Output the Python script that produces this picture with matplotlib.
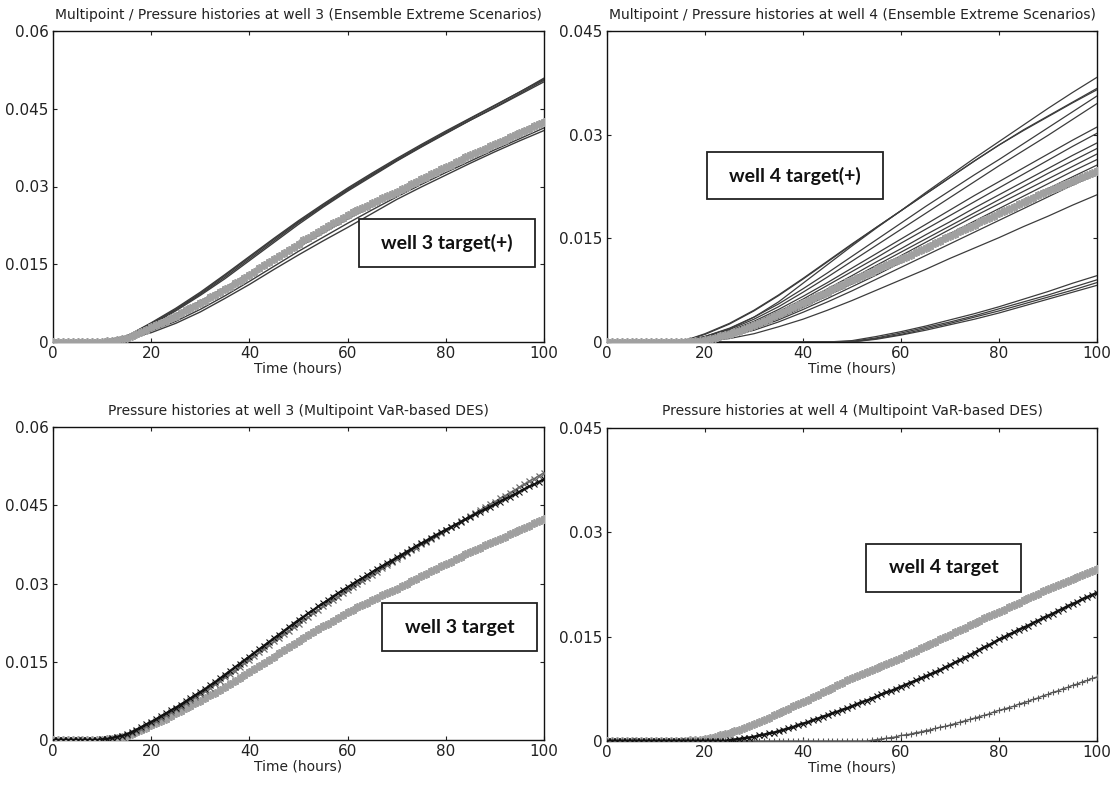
import matplotlib
matplotlib.use("Agg")
import matplotlib.pyplot as plt
from matplotlib.patches import Rectangle

# ---------------- data ----------------
hours = list(range(101))
t5 = list(range(0, 101, 5))

# well 3 target (gray asterisks), hourly
target_w3 = [0, 0, 0, 0, 0, 0, 0, 0, 0, 0,
             0.0000, 0.0001, 0.0002, 0.0004, 0.0006, 0.0008, 0.0011, 0.0015, 0.0019, 0.0023, 0.0028,
             0.0032, 0.0037, 0.0041, 0.0046, 0.0051, 0.0056, 0.0061, 0.0065, 0.0070, 0.0075,
             0.0080, 0.0086, 0.0091, 0.0096, 0.0102, 0.0107, 0.0113, 0.0118, 0.0124, 0.0130,
             0.0136, 0.0142, 0.0148, 0.0154, 0.0160, 0.0166, 0.0172, 0.0178, 0.0184, 0.0190,
             0.0196, 0.0201, 0.0207, 0.0212, 0.0218, 0.0223, 0.0229, 0.0234, 0.0240, 0.0245,
             0.0250, 0.0254, 0.0259, 0.0263, 0.0268, 0.0272, 0.0277, 0.0281, 0.0286, 0.0290,
             0.0295, 0.0300, 0.0304, 0.0309, 0.0314, 0.0319, 0.0324, 0.0328, 0.0333, 0.0338,
             0.0342, 0.0347, 0.0351, 0.0356, 0.0360, 0.0364, 0.0369, 0.0373, 0.0378, 0.0382,
             0.0386, 0.0390, 0.0395, 0.0399, 0.0403, 0.0407, 0.0411, 0.0416, 0.0420, 0.0424]

# well 3 VaR-based DES scenarios, hourly
des_w3_a = [0, 0, 0, 0, 0, 0, 0, 0, 0, 0,
            0.0001, 0.0002, 0.0004, 0.0006, 0.0008, 0.0011, 0.0015, 0.0020, 0.0025, 0.0030, 0.0035,
            0.0040, 0.0046, 0.0051, 0.0057, 0.0062, 0.0068, 0.0074, 0.0080, 0.0086, 0.0092,
            0.0098, 0.0105, 0.0111, 0.0118, 0.0125, 0.0132, 0.0139, 0.0146, 0.0153, 0.0160,
            0.0167, 0.0174, 0.0181, 0.0188, 0.0195, 0.0202, 0.0209, 0.0216, 0.0223, 0.0230,
            0.0236, 0.0243, 0.0249, 0.0256, 0.0262, 0.0268, 0.0275, 0.0281, 0.0287, 0.0293,
            0.0299, 0.0305, 0.0310, 0.0316, 0.0322, 0.0328, 0.0333, 0.0339, 0.0344, 0.0350,
            0.0355, 0.0361, 0.0366, 0.0372, 0.0377, 0.0382, 0.0388, 0.0393, 0.0398, 0.0403,
            0.0408, 0.0413, 0.0418, 0.0423, 0.0428, 0.0433, 0.0438, 0.0442, 0.0447, 0.0452,
            0.0457, 0.0462, 0.0466, 0.0471, 0.0476, 0.0481, 0.0486, 0.0490, 0.0495, 0.0500]
des_w3_b = [0, 0, 0, 0, 0, 0, 0, 0, 0, 0,
            0.0001, 0.0002, 0.0003, 0.0005, 0.0007, 0.0010, 0.0013, 0.0017, 0.0022, 0.0027, 0.0032,
            0.0037, 0.0042, 0.0048, 0.0053, 0.0059, 0.0064, 0.0070, 0.0076, 0.0082, 0.0088,
            0.0094, 0.0100, 0.0107, 0.0113, 0.0120, 0.0126, 0.0133, 0.0140, 0.0147, 0.0154,
            0.0161, 0.0168, 0.0175, 0.0182, 0.0189, 0.0196, 0.0203, 0.0209, 0.0216, 0.0223,
            0.0230, 0.0236, 0.0243, 0.0249, 0.0256, 0.0262, 0.0268, 0.0275, 0.0281, 0.0287,
            0.0293, 0.0299, 0.0305, 0.0311, 0.0317, 0.0323, 0.0329, 0.0335, 0.0341, 0.0347,
            0.0352, 0.0358, 0.0364, 0.0369, 0.0375, 0.0380, 0.0386, 0.0391, 0.0397, 0.0402,
            0.0408, 0.0413, 0.0419, 0.0424, 0.0430, 0.0435, 0.0441, 0.0446, 0.0452, 0.0457,
            0.0463, 0.0468, 0.0474, 0.0479, 0.0485, 0.0490, 0.0496, 0.0501, 0.0507, 0.0512]

# well 4 target (gray asterisks), hourly
target_w4 = [0, 0, 0, 0, 0, 0, 0, 0, 0, 0, 0, 0, 0, 0, 0, 0,
             0.0000, 0.0001, 0.0001, 0.0002, 0.0003,
             0.0004, 0.0006, 0.0008, 0.0010, 0.0012, 0.0014, 0.0016, 0.0019, 0.0021, 0.0024,
             0.0027, 0.0030, 0.0033, 0.0037, 0.0040, 0.0043, 0.0046, 0.0050, 0.0053, 0.0056,
             0.0059, 0.0063, 0.0066, 0.0070, 0.0073, 0.0076, 0.0080, 0.0083, 0.0087, 0.0090,
             0.0093, 0.0096, 0.0099, 0.0102, 0.0105, 0.0108, 0.0111, 0.0114, 0.0117, 0.0120,
             0.0123, 0.0126, 0.0130, 0.0133, 0.0136, 0.0139, 0.0143, 0.0146, 0.0150, 0.0153,
             0.0156, 0.0160, 0.0163, 0.0167, 0.0170, 0.0173, 0.0177, 0.0180, 0.0183, 0.0186,
             0.0189, 0.0193, 0.0196, 0.0199, 0.0202, 0.0205, 0.0209, 0.0212, 0.0215, 0.0218,
             0.0221, 0.0224, 0.0227, 0.0230, 0.0233, 0.0236, 0.0239, 0.0242, 0.0245, 0.0248]

# well 4 VaR-based DES scenarios, hourly
des_w4_a = [0, 0, 0, 0, 0, 0, 0, 0, 0, 0, 0, 0, 0, 0, 0, 0, 0, 0, 0, 0, 0, 0, 0, 0,
            0.0000, 0.0001, 0.0002, 0.0003, 0.0004, 0.0005, 0.0006,
            0.0008, 0.0009, 0.0011, 0.0012, 0.0014, 0.0016, 0.0018, 0.0020, 0.0023, 0.0025,
            0.0027, 0.0030, 0.0032, 0.0035, 0.0037, 0.0040, 0.0042, 0.0045, 0.0047, 0.0050,
            0.0053, 0.0056, 0.0058, 0.0061, 0.0064, 0.0067, 0.0070, 0.0072, 0.0075, 0.0078,
            0.0081, 0.0084, 0.0087, 0.0090, 0.0093, 0.0096, 0.0099, 0.0102, 0.0106, 0.0109,
            0.0113, 0.0116, 0.0120, 0.0123, 0.0127, 0.0131, 0.0135, 0.0138, 0.0142, 0.0146,
            0.0149, 0.0153, 0.0156, 0.0160, 0.0163, 0.0166, 0.0170, 0.0173, 0.0177, 0.0180,
            0.0183, 0.0187, 0.0190, 0.0194, 0.0197, 0.0200, 0.0204, 0.0207, 0.0210, 0.0213]
des_w4_b = [0, 0, 0, 0, 0, 0, 0, 0, 0, 0, 0, 0, 0, 0, 0, 0, 0, 0, 0, 0,
            0, 0, 0, 0, 0, 0, 0, 0, 0, 0, 0, 0, 0, 0, 0, 0, 0, 0, 0, 0,
            0, 0, 0, 0, 0, 0, 0, 0, 0, 0, 0, 0, 0,
            0.0000, 0.0001, 0.0002, 0.0003, 0.0004, 0.0005, 0.0006, 0.0008,
            0.0009, 0.0010, 0.0012, 0.0013, 0.0015, 0.0016, 0.0018, 0.0020, 0.0021, 0.0023,
            0.0025, 0.0027, 0.0029, 0.0031, 0.0033, 0.0035, 0.0037, 0.0039, 0.0042, 0.0044,
            0.0046, 0.0048, 0.0050, 0.0053, 0.0055, 0.0057, 0.0060, 0.0062, 0.0065, 0.0067,
            0.0070, 0.0072, 0.0075, 0.0077, 0.0080, 0.0082, 0.0085, 0.0087, 0.0090, 0.0092]

# well 3 ensemble extreme scenarios (every 5 hours)
ens_w3_1 = [0, 0, 0.0001, 0.0010, 0.0035, 0.0062, 0.0092, 0.0125, 0.0160, 0.0195, 0.0230, 0.0262, 0.0293, 0.0322, 0.0350, 0.0377, 0.0403, 0.0428, 0.0452, 0.0477, 0.0502]
ens_w3_2 = [0, 0, 0.0001, 0.0011, 0.0037, 0.0065, 0.0096, 0.0130, 0.0165, 0.0200, 0.0234, 0.0266, 0.0297, 0.0326, 0.0354, 0.0381, 0.0407, 0.0432, 0.0457, 0.0482, 0.0507]
ens_w3_3 = [0, 0, 0.0001, 0.0009, 0.0033, 0.0060, 0.0090, 0.0122, 0.0157, 0.0192, 0.0227, 0.0260, 0.0291, 0.0320, 0.0349, 0.0376, 0.0402, 0.0428, 0.0453, 0.0479, 0.0505]
ens_w3_4 = [0, 0, 0.0001, 0.0011, 0.0036, 0.0063, 0.0094, 0.0128, 0.0163, 0.0198, 0.0232, 0.0264, 0.0295, 0.0324, 0.0352, 0.0379, 0.0405, 0.0431, 0.0456, 0.0482, 0.0509]
ens_w3_5 = [0, 0, 0.0001, 0.0009, 0.0030, 0.0054, 0.0079, 0.0105, 0.0132, 0.0160, 0.0189, 0.0216, 0.0242, 0.0267, 0.0291, 0.0315, 0.0338, 0.0361, 0.0384, 0.0406, 0.0428]
ens_w3_6 = [0, 0, 0.0001, 0.0008, 0.0027, 0.0050, 0.0075, 0.0101, 0.0128, 0.0155, 0.0183, 0.0210, 0.0237, 0.0262, 0.0287, 0.0311, 0.0334, 0.0357, 0.0379, 0.0400, 0.0420]
ens_w3_7 = [0, 0, 0, 0.0005, 0.0018, 0.0036, 0.0058, 0.0084, 0.0111, 0.0140, 0.0168, 0.0195, 0.0221, 0.0248, 0.0275, 0.0299, 0.0322, 0.0345, 0.0367, 0.0388, 0.0408]
ens_w3_8 = [0, 0, 0, 0.0006, 0.0021, 0.0040, 0.0063, 0.0089, 0.0117, 0.0146, 0.0175, 0.0202, 0.0229, 0.0255, 0.0280, 0.0304, 0.0327, 0.0349, 0.0371, 0.0392, 0.0413]
ens_w3 = [ens_w3_1, ens_w3_2, ens_w3_3, ens_w3_4, ens_w3_5, ens_w3_6, ens_w3_7, ens_w3_8]

# well 4 ensemble extreme scenarios (every 5 hours)
ens_w4_01 = [0, 0, 0, 0, 0.0008, 0.0019, 0.0036, 0.0058, 0.0085, 0.0112, 0.0139, 0.0165, 0.0190, 0.0216, 0.0241, 0.0266, 0.0290, 0.0314, 0.0338, 0.0361, 0.0383]
ens_w4_02 = [0, 0, 0, 0, 0.0012, 0.0027, 0.0046, 0.0068, 0.0092, 0.0117, 0.0142, 0.0166, 0.0190, 0.0214, 0.0238, 0.0262, 0.0285, 0.0306, 0.0326, 0.0346, 0.0365]
ens_w4_03 = [0, 0, 0, 0, 0.0011, 0.0026, 0.0045, 0.0067, 0.0091, 0.0116, 0.0141, 0.0166, 0.0190, 0.0214, 0.0238, 0.0262, 0.0285, 0.0307, 0.0327, 0.0347, 0.0367]
ens_w4_04 = [0, 0, 0, 0, 0.0008, 0.0020, 0.0036, 0.0055, 0.0077, 0.0100, 0.0124, 0.0148, 0.0172, 0.0196, 0.0219, 0.0242, 0.0264, 0.0287, 0.0310, 0.0333, 0.0356]
ens_w4_05 = [0, 0, 0, 0, 0.0007, 0.0018, 0.0033, 0.0051, 0.0072, 0.0094, 0.0117, 0.0140, 0.0163, 0.0186, 0.0209, 0.0232, 0.0255, 0.0277, 0.0299, 0.0322, 0.0345]
ens_w4_06 = [0, 0, 0, 0, 0.0006, 0.0016, 0.0030, 0.0047, 0.0066, 0.0086, 0.0107, 0.0128, 0.0149, 0.0170, 0.0191, 0.0212, 0.0232, 0.0252, 0.0272, 0.0292, 0.0311]
ens_w4_07 = [0, 0, 0, 0, 0.0006, 0.0015, 0.0028, 0.0044, 0.0062, 0.0082, 0.0102, 0.0122, 0.0143, 0.0163, 0.0183, 0.0203, 0.0223, 0.0243, 0.0263, 0.0283, 0.0302]
ens_w4_08 = [0, 0, 0, 0, 0.0005, 0.0013, 0.0025, 0.0040, 0.0058, 0.0077, 0.0096, 0.0116, 0.0135, 0.0155, 0.0174, 0.0194, 0.0213, 0.0232, 0.0251, 0.0270, 0.0288]
ens_w4_09 = [0, 0, 0, 0, 0.0005, 0.0012, 0.0024, 0.0038, 0.0055, 0.0073, 0.0092, 0.0111, 0.0130, 0.0149, 0.0168, 0.0187, 0.0206, 0.0225, 0.0244, 0.0262, 0.0280]
ens_w4_10 = [0, 0, 0, 0, 0.0004, 0.0011, 0.0022, 0.0036, 0.0052, 0.0069, 0.0087, 0.0106, 0.0125, 0.0144, 0.0163, 0.0182, 0.0200, 0.0218, 0.0236, 0.0254, 0.0272]
ens_w4_11 = [0, 0, 0, 0, 0.0004, 0.0010, 0.0020, 0.0034, 0.0050, 0.0067, 0.0084, 0.0102, 0.0120, 0.0138, 0.0157, 0.0175, 0.0193, 0.0211, 0.0229, 0.0247, 0.0264]
ens_w4_12 = [0, 0, 0, 0, 0.0003, 0.0009, 0.0019, 0.0032, 0.0047, 0.0063, 0.0080, 0.0097, 0.0115, 0.0133, 0.0151, 0.0169, 0.0187, 0.0204, 0.0222, 0.0239, 0.0256]
ens_w4_13 = [0, 0, 0, 0, 0.0002, 0.0008, 0.0017, 0.0029, 0.0043, 0.0058, 0.0074, 0.0091, 0.0108, 0.0125, 0.0142, 0.0159, 0.0176, 0.0193, 0.0210, 0.0227, 0.0243]
ens_w4_14 = [0, 0, 0, 0, 0.0001, 0.0005, 0.0012, 0.0022, 0.0033, 0.0046, 0.0060, 0.0075, 0.0090, 0.0105, 0.0121, 0.0136, 0.0151, 0.0167, 0.0182, 0.0198, 0.0213]
ens_w4_15 = [0, 0, 0, 0, 0, 0, 0, 0, 0, 0, 0.0002, 0.0008, 0.0015, 0.0023, 0.0032, 0.0041, 0.0051, 0.0062, 0.0073, 0.0085, 0.0096]
ens_w4_16 = [0, 0, 0, 0, 0, 0, 0, 0, 0, 0, 0.0001, 0.0006, 0.0013, 0.0021, 0.0029, 0.0038, 0.0048, 0.0058, 0.0068, 0.0079, 0.0090]
ens_w4_17 = [0, 0, 0, 0, 0, 0, 0, 0, 0, 0, 0.0000, 0.0005, 0.0011, 0.0019, 0.0027, 0.0036, 0.0045, 0.0055, 0.0065, 0.0075, 0.0086]
ens_w4_18 = [0, 0, 0, 0, 0, 0, 0, 0, 0, 0, 0.0000, 0.0004, 0.0010, 0.0017, 0.0025, 0.0033, 0.0042, 0.0052, 0.0062, 0.0072, 0.0082]
ens_w4 = [ens_w4_01, ens_w4_02, ens_w4_03, ens_w4_04, ens_w4_05, ens_w4_06, ens_w4_07,
          ens_w4_08, ens_w4_09, ens_w4_10, ens_w4_11, ens_w4_12, ens_w4_13, ens_w4_14,
          ens_w4_15, ens_w4_16, ens_w4_17, ens_w4_18]

x_ticks = [0, 20, 40, 60, 80, 100]
y_ticks_w3 = [0, 0.015, 0.03, 0.045, 0.06]
y_labels_w3 = ["0", "0.015", "0.03", "0.045", "0.06"]
y_ticks_w4 = [0, 0.015, 0.03, 0.045]
y_labels_w4 = ["0", "0.015", "0.03", "0.045"]

titles = ["Multipoint / Pressure histories at well 3 (Ensemble Extreme Scenarios)",
          "Multipoint / Pressure histories at well 4 (Ensemble Extreme Scenarios)",
          "Pressure histories at well 3 (Multipoint VaR-based DES)",
          "Pressure histories at well 4 (Multipoint VaR-based DES)"]
box_texts = ["well 3 target(+)", "well 4 target(+)", "well 3 target", "well 4 target"]

# ---------------- figure ----------------
plt.rcParams['font.family'] = ['DejaVu Sans']
W, H = 1117, 785
fig = plt.figure(figsize=(W / 100, H / 100), dpi=100)

def fpos(x0, y0, x1, y1):
    return [x0 / W, 1 - y1 / H, (x1 - x0) / W, (y1 - y0) / H]

ax_tl = fig.add_axes(fpos(53, 31, 544, 342))
ax_tr = fig.add_axes(fpos(607, 31, 1097, 342))
ax_bl = fig.add_axes(fpos(53, 427, 544, 740))
ax_br = fig.add_axes(fpos(607, 428, 1097, 741))

ens_color = '#3c3c3c'
tgt_color = '#a0a0a0'
asterisk = (8, 2, 0)

def target(ax, y):
    ax.plot(hours, y, color=tgt_color, lw=1.6, marker=asterisk, ms=6, mew=1.3, zorder=4)

# top-left
for s in ens_w3:
    ax_tl.plot(t5, s, color=ens_color, lw=1.0, zorder=3)
target(ax_tl, target_w3)
# top-right
for s in ens_w4:
    ax_tr.plot(t5, s, color=ens_color, lw=0.9, zorder=3)
target(ax_tr, target_w4)
# bottom-left
target(ax_bl, target_w3)
ax_bl.plot(hours, des_w3_b, color='#6a6a6a', lw=1.0, marker='x', ms=4.5, mew=0.9, zorder=5)
ax_bl.plot(hours, des_w3_a, color='#111111', lw=1.6, marker='x', ms=4, mew=0.8, zorder=6)
# bottom-right
target(ax_br, target_w4)
ax_br.plot(hours, des_w4_a, color='#111111', lw=1.8, marker='x', ms=4, mew=0.8, zorder=6)
ax_br.plot(hours, des_w4_b, color='#555555', lw=0.9, marker='+', ms=5, mew=0.8, zorder=5)

for ax, yt, yl, title in [(ax_tl, y_ticks_w3, y_labels_w3, titles[0]),
                          (ax_tr, y_ticks_w4, y_labels_w4, titles[1]),
                          (ax_bl, y_ticks_w3, y_labels_w3, titles[2]),
                          (ax_br, y_ticks_w4, y_labels_w4, titles[3])]:
    ax.set_xlim(0, 100)
    ax.set_ylim(yt[0], yt[-1])
    ax.set_xticks(x_ticks)
    ax.set_xticklabels([str(v) for v in x_ticks])
    ax.set_yticks(yt)
    ax.set_yticklabels(yl)
    ax.tick_params(direction='in', top=True, right=True, length=3, width=0.8,
                   labelsize=11, colors='#222222', pad=3)
    ax.tick_params(axis='x', pad=3)
    for sp in ax.spines.values():
        sp.set_linewidth(1.0)
        sp.set_color('#111111')
    ax.set_xlabel("Time (hours)", fontsize=10, color='#222222', labelpad=0)
    ax.set_title(title, fontsize=10, color='#222222', pad=9)

# text boxes (pixel coords)
boxes = [(359, 219, 535, 267), (707, 152, 883, 199), (382, 603, 537, 651), (866, 544, 1021, 592)]
for (x0, y0, x1, y1), txt in zip(boxes, box_texts):
    fig.patches.append(Rectangle((x0 / W, 1 - y1 / H), (x1 - x0) / W, (y1 - y0) / H,
                                 transform=fig.transFigure, facecolor='white',
                                 edgecolor='#222222', lw=1.3, zorder=10))
    fig.text((x0 + x1) / 2 / W, 1 - (y0 + y1) / 2 / H, txt, ha='center', va='center',
             fontsize=14, fontweight='bold', family=['Lato', 'DejaVu Sans'],
             color='#111111', zorder=11)

fig.savefig("out.png", dpi=100)
